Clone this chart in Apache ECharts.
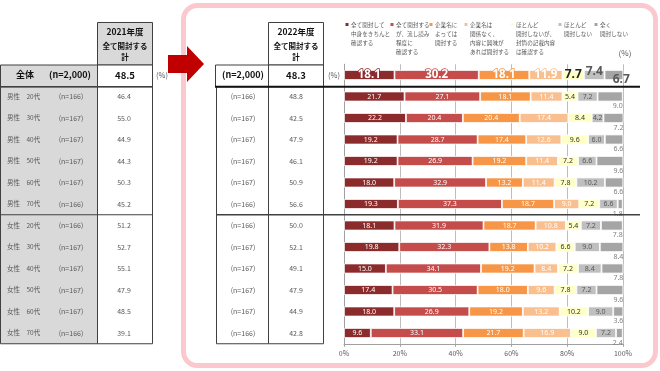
<!DOCTYPE html>
<html><head><meta charset="utf-8">
<script src="https://cdn.jsdelivr.net/npm/echarts/dist/echarts.min.js"></script>
<style>html,body{margin:0;padding:0;background:#fff}#c{width:660px;height:371px}</style>
</head><body><div id="c"></div>
<script>
// ---- data ----
const categories = ['全体','男性　20代','男性　30代','男性　40代','男性　50代','男性　60代','男性　70代','女性　20代','女性　30代','女性　40代','女性　50代','女性　60代','女性　70代'];
const sampleLabels = ['(n=2,000)','(n=166)','(n=167)','(n=167)','(n=167)','(n=167)','(n=166)','(n=166)','(n=167)','(n=167)','(n=167)','(n=167)','(n=166)'];
const total2021 = [48.5, 46.4, 55.0, 44.9, 44.3, 50.3, 45.2, 51.2, 52.7, 55.1, 47.9, 48.5, 39.1];
const total2022 = [48.3, 48.8, 42.5, 47.9, 46.1, 50.9, 56.6, 50.0, 52.1, 49.1, 47.9, 44.9, 42.8];
const openCarefully   = [18.1, 21.7, 22.2, 19.2, 19.2, 18.0, 19.3, 18.1, 19.8, 15.0, 17.4, 18.0, 9.6];
const openSkim        = [30.2, 27.1, 20.4, 28.7, 26.9, 32.9, 37.3, 31.9, 32.3, 34.1, 30.5, 26.9, 33.1];
const openByCompany   = [18.1, 18.1, 20.4, 17.4, 19.2, 13.2, 18.7, 18.7, 13.8, 19.2, 18.0, 19.2, 21.7];
const openByContent   = [11.9, 11.4, 17.4, 12.6, 11.4, 11.4, 9.0, 10.8, 10.2, 8.4, 9.6, 13.2, 16.9];
const rarelyCheckEnv  = [7.7, 5.4, 8.4, 9.6, 7.2, 7.8, 7.2, 5.4, 6.6, 7.2, 7.8, 10.2, 9.0];
const rarelyOpen      = [7.4, 7.2, 4.2, 6.0, 6.6, 10.2, 6.6, 7.2, 9.0, 8.4, 7.2, 9.0, 7.2];
const neverOpen       = [6.7, 9.0, 7.2, 6.6, 9.6, 6.6, 1.8, 7.8, 8.4, 7.8, 9.6, 3.6, 2.4];
const segmentNames = [
  ['全て開封して','中身をきちんと','確認する'],
  ['全て開封する','が、流し読み','程度に','確認する'],
  ['企業名に','よっては','開封する'],
  ['企業名は','関係なく、','内容に興味が','あれば開封する'],
  ['ほとんど','開封しないが、','封筒の記載内容','は確認する'],
  ['ほとんど','開封しない'],
  ['全く','開封しない']
];
const xTicks = [0, 20, 40, 60, 80, 100];

// ---- style ----
const FONT = "'Noto Sans CJK JP','Noto Sans',sans-serif";
const NUMFONT = "'Noto Sans','DejaVu Sans',sans-serif";
const colors = ['#8c2b2b','#c44d4b','#f79646','#fabf8f','#ffffc8','#bfbfbf','#a5a5a5'];
const labelColors = ['#fff','#fff','#fff','#fff','#333','#595959','#7f7f7f'];
const mid = {position:['50%','50%'], align:'center', verticalAlign:'middle'};
const big = i => Object.assign({fontSize:11.5, fontWeight:'bold', color:'#fff', fontFamily:NUMFONT,
  textBorderColor:colors[i], textBorderWidth:1.5}, mid);
const overallLabel = [
  big(0), big(1), big(2), big(3),
  Object.assign({fontSize:12,fontWeight:'bold',color:'#222',fontFamily:NUMFONT}, mid),
  Object.assign({fontSize:12,fontWeight:'bold',color:'#595959',fontFamily:NUMFONT,offset:[0,-3]}, mid),
  {fontSize:12,fontWeight:'bold',color:'#595959',fontFamily:NUMFONT,position:['100%','100%'],align:'center',verticalAlign:'top',offset:[-2,-6]}
];
const seriesData = [openCarefully, openSkim, openByCompany, openByContent, rarelyCheckEnv, rarelyOpen, neverOpen];

const chart = echarts.init(document.getElementById('c'), null, {renderer:'canvas'});
const series = seriesData.map((arr, i) => {
  const lbl = {show:true, position:'inside', fontSize:7, fontFamily:NUMFONT, color:labelColors[i],
    formatter: p => Number(p.value).toFixed(1)};
  if (i === 6) { Object.assign(lbl, {position:['100%','100%'], align:'right', verticalAlign:'top', offset:[0,1]}); }
  return {
    name: segmentNames[i].join(''), type:'bar', stack:'total', barWidth:10,
    itemStyle:{color:colors[i], borderColor:'#fff', borderWidth:0.8},
    label: lbl,
    emphasis:{disabled:true},
    data: arr.map((v, r) => r === 0 ? {value:v, label:overallLabel[i]} : v)
  };
});

chart.setOption({
  animation:false,
  textStyle:{fontFamily:FONT},
  grid:{left:344, width:279, top:64.25, height:279.5},
  xAxis:{type:'value', min:0, max:100, interval:20,
    axisLabel:{formatter:'{value}%', fontSize:7, color:'#595959', margin:6},
    axisLine:{show:true, lineStyle:{color:'#a0a0a0'}},
    axisTick:{show:true, length:3, lineStyle:{color:'#a0a0a0'}},
    splitLine:{show:true, lineStyle:{color:'#bdbdbd', width:1}}},
  yAxis:{type:'category', data:categories, inverse:true,
    axisLabel:{show:false}, axisTick:{show:false}, axisLine:{show:true, lineStyle:{color:'#a0a0a0'}}},
  series
});

// ---- tables, legend, frame ----
const yc = r => chart.convertToPixel({yAxisIndex:0}, categories[r]);
const half = (yc(1) - yc(0)) / 2;
const gTop = yc(0) - half, gBot = yc(12) + half;
const bRow0 = yc(0) + half + 1;        // after overall row
const bSex = (yc(6) + yc(7)) / 2;      // male/female divider
const G = [];
const txt = (x, y, t, o) => G.push(Object.assign({type:'text', x, y, silent:true,
  style:Object.assign({text:t, fontFamily:FONT, fontSize:7, fill:'#595959', align:'center', verticalAlign:'middle'}, o||{})}, {z:10}));
const rect = (x, y, w, h, fill, stroke, lw, z) => G.push({type:'rect', silent:true, z:z||5, shape:{x, y, width:w, height:h}, style:{fill, stroke, lineWidth:lw||1}});
const line = (x1, y1, x2, y2, stroke, lw, z) => G.push({type:'line', silent:true, z:z||6, shape:{x1, y1, x2, y2}, style:{stroke, lineWidth:lw||1}});

// pink frame
G.push({type:'rect', silent:true, z:1, shape:{x:183.5, y:5.5, width:472, height:360, r:14}, style:{fill:'none', stroke:'#fbc9cd', lineWidth:5}});
// arrow
G.push({type:'polygon', silent:true, z:8, shape:{points:[[168,55],[187,55],[187,46],[204,64],[187,82],[187,73],[168,73]]}, style:{fill:'#c00000'}});

// left table (2021)
rect(97.5, 22.5, 55, 42.5, '#d9d9d9', '#404040');
txt(125, 32, '2021年度', {fontSize:8.5, fontWeight:'bold', fill:'#111'});
txt(125, 46, '全て開封する', {fontSize:7.5, fontWeight:'bold', fill:'#111'});
txt(125, 57, '計', {fontSize:7.5, fontWeight:'bold', fill:'#111'});
rect(0.5, 65, 97, bRow0 - 65, '#d9d9d9', '#404040');
rect(97.5, 65, 55, bRow0 - 65, '#fff', '#404040');
rect(0.5, bRow0, 97, gBot - bRow0, '#d9d9d9', '#404040');
rect(97.5, bRow0, 55, gBot - bRow0, '#fff', '#404040');
line(0, bRow0, 153, bRow0, '#404040', 1.5);
line(0, bSex, 153, bSex, '#404040', 1.2);
txt(162, yc(0), '(%)', {fontSize:7.5});
// right table (2022)
rect(268.5, 22.5, 55, 42.5, '#fff', '#404040');
txt(296, 32, '2022年度', {fontSize:8.5, fontWeight:'bold', fill:'#111'});
txt(296, 46, '全て開封する', {fontSize:7.5, fontWeight:'bold', fill:'#111'});
txt(296, 57, '計', {fontSize:7.5, fontWeight:'bold', fill:'#111'});
rect(215.5, 65, 108, bRow0 - 65, '#fff', '#404040');
line(268.5, 65, 268.5, bRow0, '#404040');
rect(216.5, bRow0, 107, gBot - bRow0, '#fff', '#404040');
line(268.5, bRow0, 268.5, gBot, '#404040');
line(215, bRow0, 640, bRow0, '#111', 2, 7);
line(216, bSex, 640, bSex, '#404040', 1.3, 7);
txt(334, yc(0), '(%)', {fontSize:7.5});

categories.forEach((c, r) => {
  const y = yc(r);
  if (r === 0) {
    txt(25, y, c, {fontSize:9, fontWeight:'bold', fill:'#111'});
    txt(70, y, sampleLabels[r], {fontSize:9, fontWeight:'bold', fill:'#111'});
    txt(125, y, total2021[r].toFixed(1), {fontSize:9.5, fontWeight:'bold', fill:'#111'});
    txt(243, y, sampleLabels[r], {fontSize:9, fontWeight:'bold', fill:'#111'});
    txt(296, y, total2022[r].toFixed(1), {fontSize:9.5, fontWeight:'bold', fill:'#111'});
  } else {
    txt(7, y, c, {fontSize:6.5, align:'left'});
    txt(71, y, sampleLabels[r], {fontSize:7});
    txt(124, y, total2021[r].toFixed(1), {fontSize:7});
    txt(243, y, sampleLabels[r], {fontSize:7});
    txt(296, y, total2022[r].toFixed(1), {fontSize:7});
  }
});

// legend
const legendX = [347, 392, 431, 466, 512, 560, 596];
segmentNames.forEach((lines, i) => {
  G.push({type:'rect', silent:true, z:10, shape:{x:legendX[i]-1.5, y:23, width:3, height:3}, style:{fill:colors[i]}});
  lines.forEach((t, k) => txt(legendX[i] + 4, 24.5 + k * 9, t, {fontSize:5.6, align:'left', fill:'#595959'}));
});
txt(625, 53, '(%)', {fontSize:8});

chart.setOption({graphic:{elements:G}});
</script>
</body></html>
